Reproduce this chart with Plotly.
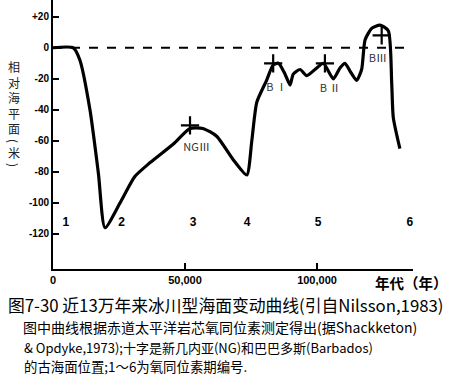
import plotly.graph_objects as go

# ---- data ----
age_years = [0, 7700, 10200, 14000, 17200, 19700, 25400, 31000, 36800, 45600, 51900, 56800,
             62000, 68200, 73400, 75300, 77200, 80900, 83400, 85400, 87900, 89800, 91000,
             93600, 96100, 99900, 102400, 106200, 108700, 110600, 112500, 115000, 116900,
             118200, 120700, 123900, 127000, 128300, 128900, 131400]
sea_level_m = [0, 0, -8, -40, -81, -116, -100, -83, -74, -62, -52, -52,
               -57, -72, -82, -60, -35, -21, -11, -10, -17, -24, -17,
               -14, -18, -13, -10, -20, -13, -10, -15, -21, -14,
               5, 12.5, 14.6, 11, -23, -45, -65]

cross_x = [51900, 83400, 103000, 124500]
cross_y = [-50, -10, -10, 8]

site_labels = ["NGⅢ", "B Ⅰ", "B Ⅱ", "BⅢ"]
site_label_x = [54400, 84700, 105000, 123100]
site_label_y = [-65, -26, -27, -7.5]

stage_labels = ["1", "2", "3", "4", "5", "6"]
stage_x = [4900, 26000, 53100, 73500, 100400, 135200]
stage_y = [-113, -113, -113, -113, -113, -113]

present_level = 0
present_level_x = [0, 136000]

y_tickvals = [20, 0, -20, -40, -60, -80, -100, -120]
y_ticktext = ["+20", "0", "-20", "-40", "-60", "-80", "-100", "-120"]
x_tickvals = [0, 50000, 100000]
x_ticktext = ["0", "50,000", "100,000"]

y_title_main = "相对海平面"
y_title_unit = ["(", "米", ")"]
caption_lines = [
    "图7-30 近13万年来冰川型海面变动曲线(引自Nilsson,1983)",
    "图中曲线根据赤道太平洋岩芯氧同位素测定得出(据Shackketon)",
    "& Opdyke,1973);十字是新几内亚(NG)和巴巴多斯(Barbados)",
    "的古海面位置;1～6为氧同位素期编号.",
]

CJK = "Noto Sans CJK SC"
L, R, T, B = 53, 37, 0, 107
PW, PH = 450 - L - R, 376 - T - B


def px(xp):
    return (xp - L) / PW


def py(yp):
    return (376 - B - yp) / PH


fig = go.Figure()

fig.add_trace(go.Scatter(x=present_level_x, y=[present_level] * len(present_level_x),
                         mode="lines", line=dict(color="black", width=2, dash="dash"),
                         hoverinfo="skip"))
fig.add_trace(go.Scatter(x=age_years, y=sea_level_m, mode="lines",
                         line=dict(color="black", width=3.2, shape="spline", smoothing=0.6)))
fig.add_trace(go.Scatter(x=cross_x, y=cross_y, mode="markers",
                         marker=dict(symbol="cross-thin", size=13,
                                     line=dict(color="black", width=2.2))))
fig.add_trace(go.Scatter(x=site_label_x, y=site_label_y, mode="text", text=site_labels,
                         textfont=dict(family=CJK, size=11, color="#333333")))
fig.add_trace(go.Scatter(x=stage_x, y=stage_y, mode="text",
                         text=["<b>%s</b>" % s for s in stage_labels],
                         textfont=dict(family="Liberation Sans", size=12, color="black")))

fig.update_layout(
    width=450, height=376,
    margin=dict(l=L, r=R, t=T, b=B),
    paper_bgcolor="white", plot_bgcolor="white",
    showlegend=False,
    xaxis=dict(range=[0, 136364], showgrid=False, zeroline=False,
               showline=True, linecolor="black", linewidth=2,
               tickvals=x_tickvals, ticktext=["<b>%s</b>" % t for t in x_ticktext],
               ticks="inside", ticklen=6, tickwidth=2, tickcolor="black",
               tickfont=dict(family="Liberation Sans", size=11, color="black")),
    yaxis=dict(range=[-142.6, 30.8], showgrid=False, zeroline=False,
               showline=True, linecolor="black", linewidth=2,
               tickvals=y_tickvals, ticktext=["<b>%s</b>" % t for t in y_ticktext],
               ticks="inside", ticklen=6, tickwidth=2, tickcolor="black",
               tickfont=dict(family="Liberation Sans", size=10, color="black")),
)

annotations = [
    dict(text="<b>年代（年）</b>", xref="paper", yref="paper", x=px(450), y=py(282),
         xanchor="right", yanchor="middle", showarrow=False,
         font=dict(family=CJK, size=14.5, color="black")),
    dict(text="<br>".join(y_title_main), xref="paper", yref="paper", x=px(14), y=py(98),
         xanchor="center", yanchor="middle", showarrow=False, align="center",
         font=dict(family=CJK, size=12, color="#222222")),
]
unit_pos = [141, 153, 165]
for ch, yy in zip(y_title_unit, unit_pos):
    annotations.append(dict(text=ch, xref="paper", yref="paper", x=px(14), y=py(yy),
                            xanchor="center", yanchor="middle", showarrow=False,
                            textangle=90 if ch in "()" else 0,
                            font=dict(family=CJK, size=12, color="#222222")))
cap_y = [304.5, 327, 347, 366.3]
cap_x = [6, 21, 22, 22]
cap_size = [16.8, 14.0, 13.0, 13.4]
for line, yy, xx, fs in zip(caption_lines, cap_y, cap_x, cap_size):
    annotations.append(dict(text=line, xref="paper", yref="paper",
                            x=px(xx), y=py(yy),
                            xanchor="left", yanchor="middle", showarrow=False,
                            font=dict(family=CJK, size=fs, color="black")))
fig.update_layout(annotations=annotations)

fig.write_html("out.html", config={"displayModeBar": False},
               post_script="document.body.style.margin='0';document.body.style.padding='0';")
